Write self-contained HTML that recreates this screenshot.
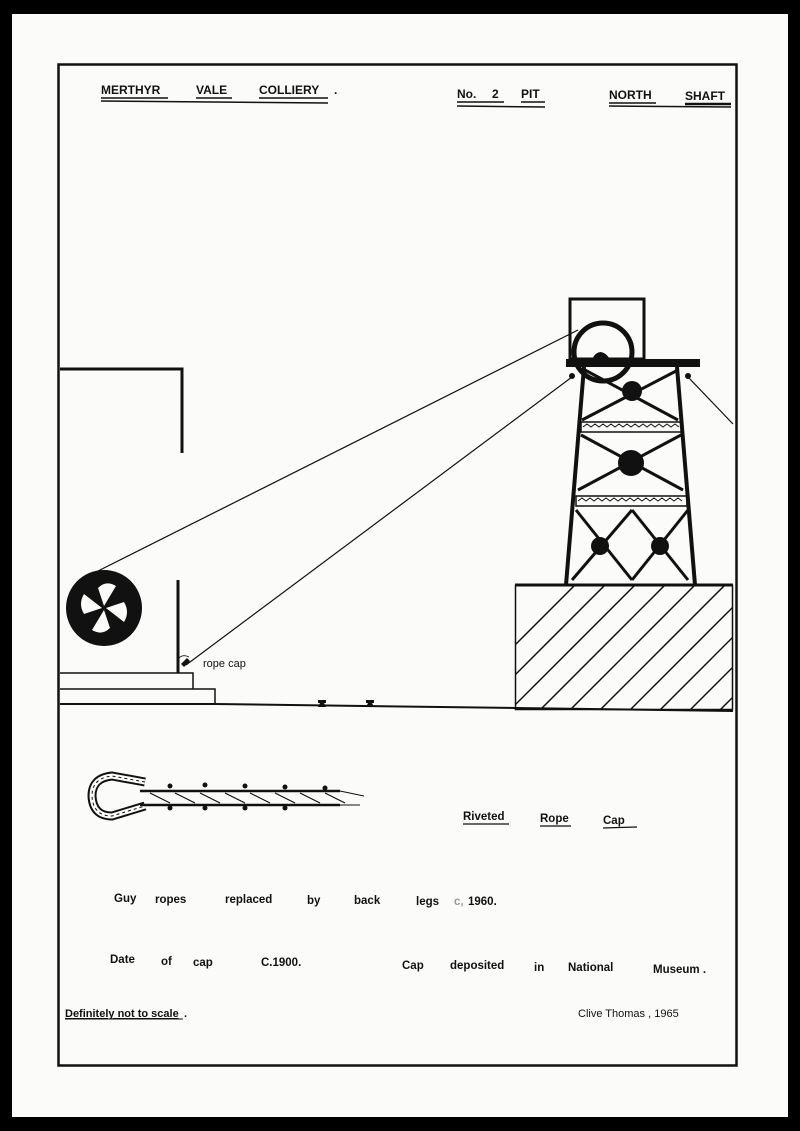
<!DOCTYPE html>
<html><head><meta charset="utf-8"><style>
html,body{margin:0;padding:0;background:#000;}
svg{display:block}
text{font-family:"Liberation Sans",sans-serif;font-weight:bold;fill:#111;}
</style></head><body>
<svg width="800" height="1131" viewBox="0 0 800 1131" xmlns="http://www.w3.org/2000/svg">
<rect x="0" y="0" width="800" height="1131" fill="#000"/>
<rect x="12" y="14" width="776" height="1103" fill="#fbfbf9"/>
<rect x="58.5" y="64.5" width="678" height="1001" fill="none" stroke="#111" stroke-width="2.5"/>
<!-- header -->
<g font-size="12">
<text x="101" y="94">MERTHYR</text>
<text x="196" y="94">VALE</text>
<text x="259" y="94">COLLIERY</text>
<text x="334" y="94">.</text>
<text x="457" y="98">No.</text>
<text x="492" y="98">2</text>
<text x="521" y="98">PIT</text>
<text x="609" y="99">NORTH</text>
<text x="685" y="100">SHAFT</text>
</g>
<g stroke="#111" stroke-width="1.5">
<line x1="101" y1="98" x2="168" y2="98"/><line x1="101" y1="101" x2="328" y2="103"/>
<line x1="196" y1="98" x2="232" y2="98"/><line x1="259" y1="98" x2="328" y2="98"/>
<line x1="457" y1="102" x2="504" y2="102"/><line x1="457" y1="106" x2="545" y2="107"/>
<line x1="521" y1="102" x2="545" y2="102"/>
<line x1="609" y1="103" x2="656" y2="103"/><line x1="609" y1="106" x2="731" y2="107"/>
<line x1="685" y1="104" x2="731" y2="104" stroke-width="2.5"/>
</g>
<!-- left building -->
<g stroke="#111" fill="none">
<polyline points="60,369 182,369 182,453" stroke-width="3"/>
<line x1="60" y1="369" x2="182" y2="369" stroke-width="2"/>
<line x1="178" y1="580" x2="178" y2="673" stroke-width="3"/>
<polyline points="60,673 193,673 193,689" stroke-width="1.5"/>
<polyline points="60,689 215,689 215,704" stroke-width="1.5"/>
<polyline points="60,704 215,704 515,708 733,711" stroke-width="2"/>
</g>
<!-- fan -->
<circle cx="104" cy="608" r="38" fill="#111"/>
<g fill="#fbfbf9">
<path d="M104,606 L98,588 Q106,580 116,586 Z"/>
<path d="M106,608 L124,602 Q130,612 124,622 Z"/>
<path d="M104,610 L110,628 Q102,636 92,630 Z"/>
<path d="M102,608 L84,614 Q78,604 84,594 Z"/>
</g>
<!-- rails -->
<g fill="#111"><path d="M318,707 l2,-4 h-2 v-3 h8 v3 h-2 l2,4 z"/><path d="M366,707 l2,-4 h-2 v-3 h8 v3 h-2 l2,4 z"/></g>
<!-- ropes -->
<g stroke="#111" stroke-width="1.2">
<line x1="96" y1="572" x2="578" y2="330"/>
<line x1="186" y1="665" x2="572" y2="377"/>
<line x1="688" y1="377" x2="733" y2="424"/>
</g>
<path d="M181,664 l6,-6 l3,3 l-6,6 z" fill="#111"/>
<path d="M179,658 q4,-4 10,-1" stroke="#111" fill="none" stroke-width="0.8"/>
<text x="203" y="667" font-size="11" style="font-weight:normal">rope cap</text>
<!-- hatched base -->
<defs><clipPath id="hc"><rect x="515" y="585" width="218" height="125"/></clipPath></defs>
<rect x="515.5" y="585.5" width="217" height="124" fill="none" stroke="#111" stroke-width="1.5"/>
<line x1="515" y1="585" x2="733" y2="585" stroke="#111" stroke-width="3"/>
<g clip-path="url(#hc)" stroke="#111" stroke-width="1.5">
<line x1="480" y1="710" x2="605" y2="585"/><line x1="510" y1="710" x2="635" y2="585"/>
<line x1="540" y1="710" x2="665" y2="585"/><line x1="570" y1="710" x2="695" y2="585"/>
<line x1="600" y1="710" x2="725" y2="585"/><line x1="630" y1="710" x2="755" y2="585"/>
<line x1="660" y1="710" x2="785" y2="585"/><line x1="690" y1="710" x2="815" y2="585"/>
<line x1="720" y1="710" x2="845" y2="585"/><line x1="450" y1="710" x2="575" y2="585"/>
</g>
<!-- headframe -->
<g stroke="#111" fill="none">
<rect x="570" y="299" width="74" height="60" stroke-width="3"/>
<line x1="584" y1="367" x2="566" y2="585" stroke-width="4"/>
<line x1="677" y1="367" x2="695" y2="585" stroke-width="4"/>
<g stroke-width="3">
<line x1="585" y1="370" x2="678" y2="420"/><line x1="678" y1="370" x2="582" y2="420"/>
<line x1="581" y1="435" x2="683" y2="490"/><line x1="681" y1="435" x2="578" y2="490"/>
<line x1="576" y1="510" x2="632" y2="580"/><line x1="632" y1="510" x2="688" y2="580"/>
<line x1="632" y1="510" x2="572" y2="580"/><line x1="688" y1="510" x2="632" y2="580"/>
</g>
<rect x="581" y="422" width="101" height="10" stroke-width="1.5"/>
<rect x="576" y="496" width="111" height="10" stroke-width="1.5"/>
<path d="M583,427 l4,-3 l4,3 l4,-3 l4,3 l4,-3 l4,3 l4,-3 l4,3 l4,-3 l4,3 l4,-3 l4,3 l4,-3 l4,3 l4,-3 l4,3 l4,-3 l4,3 l4,-3 l4,3 l4,-3 l4,3 l4,-3 l4,3" stroke-width="1"/>
<path d="M578,501 l4,-3 l4,3 l4,-3 l4,3 l4,-3 l4,3 l4,-3 l4,3 l4,-3 l4,3 l4,-3 l4,3 l4,-3 l4,3 l4,-3 l4,3 l4,-3 l4,3 l4,-3 l4,3 l4,-3 l4,3 l4,-3 l4,3 l4,-3 l4,3" stroke-width="1"/>
</g>
<rect x="566" y="359" width="134" height="8" fill="#111"/>
<path d="M592,359 q8,-14 18,0 z" fill="#111"/>
<circle cx="603" cy="352" r="29" fill="none" stroke="#111" stroke-width="5"/>
<g fill="#111">
<circle cx="632" cy="391" r="10"/><circle cx="631" cy="463" r="13"/>
<circle cx="600" cy="546" r="9"/><circle cx="660" cy="546" r="9"/>
<circle cx="572" cy="376" r="3"/><circle cx="688" cy="376" r="3"/>
</g>
<!-- rope cap drawing -->
<g stroke="#111" fill="none">
<path d="M145,782 L112,776 Q92,778 92,796 Q93,816 112,816 L145,806" stroke-width="9"/>
<path d="M145,782 L112,776 Q92,778 92,796 Q93,816 112,816 L145,806" stroke-width="5" stroke="#fbfbf9"/>
<path d="M145,782 L112,776 Q92,778 92,796 Q93,816 112,816 L145,806" stroke-width="1" stroke-dasharray="3 3"/>
<line x1="140" y1="791" x2="340" y2="791" stroke-width="2.5"/>
<line x1="140" y1="805" x2="340" y2="805" stroke-width="2.5"/>
<line x1="340" y1="791" x2="364" y2="796" stroke-width="1"/>
<line x1="340" y1="805" x2="360" y2="805" stroke-width="1"/>
<g stroke-width="1.2">
<line x1="150" y1="793" x2="170" y2="803"/><line x1="175" y1="793" x2="195" y2="803"/>
<line x1="200" y1="793" x2="220" y2="803"/><line x1="225" y1="793" x2="245" y2="803"/>
<line x1="250" y1="793" x2="270" y2="803"/><line x1="275" y1="793" x2="295" y2="803"/>
<line x1="300" y1="793" x2="320" y2="803"/><line x1="325" y1="793" x2="345" y2="803"/>
</g>
</g>
<g fill="#111">
<circle cx="170" cy="786" r="2.5"/><circle cx="205" cy="785" r="2.5"/><circle cx="245" cy="786" r="2.5"/><circle cx="285" cy="787" r="2.5"/><circle cx="325" cy="788" r="2.5"/>
<circle cx="170" cy="808" r="2.5"/><circle cx="205" cy="808" r="2.5"/><circle cx="245" cy="808" r="2.5"/><circle cx="285" cy="808" r="2.5"/>
</g>
<!-- labels -->
<g font-size="11.5">
<text x="463" y="820">Riveted</text>
<text x="540" y="822">Rope</text>
<text x="603" y="824">Cap</text>
<text x="114" y="902">Guy</text><text x="155" y="903">ropes</text>
<text x="225" y="903">replaced</text><text x="307" y="904">by</text>
<text x="354" y="904">back</text><text x="416" y="905">legs</text>
<text x="454" y="905" style="fill:#999">c,</text><text x="468" y="905">1960.</text>
<text x="110" y="963">Date</text><text x="161" y="965">of</text><text x="193" y="966">cap</text>
<text x="261" y="966">C.1900.</text>
<text x="402" y="969">Cap</text><text x="450" y="969">deposited</text><text x="534" y="971">in</text>
<text x="568" y="971">National</text><text x="653" y="973">Museum .</text>
</g>
<g stroke="#111" stroke-width="1.3">
<line x1="463" y1="824" x2="509" y2="824"/><line x1="540" y1="826" x2="571" y2="826"/><line x1="603" y1="828" x2="637" y2="827"/>
</g>
<text x="65" y="1017" font-size="11" text-decoration="underline">Definitely not to scale</text>
<text x="184" y="1017" font-size="11">.</text>
<text x="578" y="1017" font-size="11" style="font-weight:normal">Clive Thomas ,  1965</text>
<line x1="65" y1="1019" x2="183" y2="1019" stroke="#111" stroke-width="1"/>
</svg>
</body></html>
